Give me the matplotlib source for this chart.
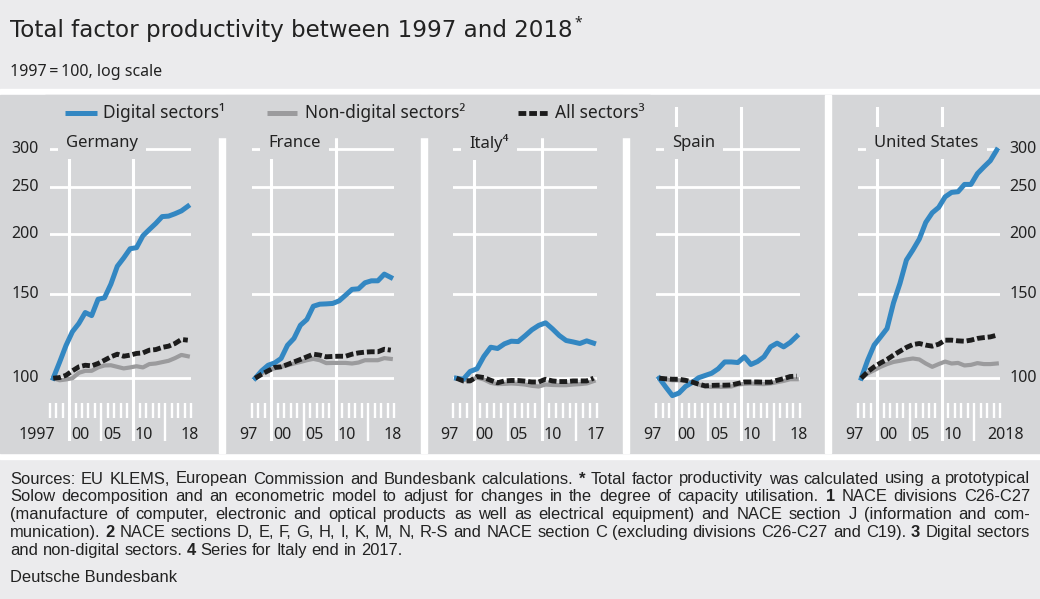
import numpy as np
import matplotlib
matplotlib.use("Agg")
import matplotlib.pyplot as plt
import matplotlib.transforms as mtransforms
from matplotlib.patches import Rectangle
from matplotlib import font_manager

plt.rcParams['font.family'] = ['Noto Sans', 'DejaVu Sans']

# ---- datos (1997 = 100) ----
years = list(range(1997, 2019))
years_italy = list(range(1997, 2018))

germany_digital = [100, 108, 117, 125, 130, 137, 135, 146, 147, 157, 171, 178, 186, 187, 198, 204, 210, 217, 217.5, 220, 223, 228]
germany_nondigital = [100, 99.0, 99.4, 100, 102.6, 103.6, 103.6, 105.3, 106.3, 106.4, 105.6, 104.8, 105.3, 105.9, 105.3, 107.0, 107.3, 108.0, 108.7, 110.1, 111.8, 111.1]
germany_all = [100, 100.3, 101.4, 103.6, 105.6, 106.4, 106.1, 107.3, 109.0, 110.8, 112.2, 111.1, 111.7, 112.6, 112.9, 114.4, 114.7, 115.9, 116.6, 118.1, 120.4, 120.0]

france_digital = [100, 103.6, 106.4, 107.6, 109.9, 117.1, 121.0, 128.9, 132.5, 141.2, 142.6, 142.8, 143.1, 144.9, 148.9, 153.1, 153.5, 158.0, 159.5, 159.5, 164.7, 162.1]
france_nondigital = [100, 102.3, 103.9, 104.8, 105.6, 106.4, 107.3, 108.1, 109.0, 109.7, 109.0, 107.5, 107.6, 107.6, 107.6, 107.3, 107.8, 109.0, 109.0, 109.0, 110.1, 109.7]
france_all = [100, 101.9, 103.6, 105.3, 105.6, 106.8, 108.1, 109.4, 110.8, 112.2, 111.7, 110.8, 111.0, 111.1, 111.1, 112.2, 112.9, 113.3, 113.5, 113.5, 114.9, 114.4]

italy_digital = [100, 99.5, 103.3, 104.6, 111.0, 116.0, 115.3, 117.9, 119.4, 119.2, 122.5, 126.1, 128.8, 130.4, 126.7, 122.7, 119.8, 119.0, 118.1, 119.6, 118.3]
italy_nondigital = [100, 99.2, 99.0, 100.3, 99.4, 97.8, 97.2, 97.3, 97.5, 97.3, 97.0, 96.4, 96.1, 97.0, 96.8, 96.7, 96.7, 97.0, 97.2, 97.5, 98.6]
italy_all = [100, 98.7, 98.7, 100.8, 100.3, 99.0, 97.8, 98.7, 98.9, 98.9, 98.6, 98.2, 98.2, 99.5, 98.7, 98.4, 98.4, 98.7, 98.7, 98.7, 100]

spain_digital = [100, 95.8, 92.0, 93.1, 96.1, 97.9, 100.2, 101.3, 102.4, 104.6, 108.1, 108.1, 107.8, 110.8, 106.8, 108.3, 110.8, 116.2, 118.3, 116.2, 118.7, 122.3]
spain_nondigital = [100, 99.5, 99.0, 99.0, 98.6, 98.1, 97.0, 96.1, 95.9, 95.9, 95.9, 96.1, 97.0, 97.3, 97.5, 97.3, 97.2, 97.5, 98.1, 98.7, 99.5, 99.5]
spain_all = [100, 99.7, 99.5, 99.5, 99.0, 98.2, 97.2, 96.4, 96.6, 96.7, 96.7, 96.8, 97.5, 98.2, 98.2, 98.2, 98.1, 98.1, 99.0, 99.8, 100.8, 101.0]

us_digital = [100, 109.0, 117.2, 121.9, 126.9, 143.5, 157.5, 176.2, 184.9, 194.9, 211.1, 221.0, 226.8, 238.6, 243.7, 244.5, 253.2, 253.2, 266.7, 275.3, 283.7, 298.6]
us_nondigital = [100, 102.3, 103.9, 105.6, 107.0, 108.1, 108.7, 109.4, 109.9, 109.4, 107.3, 105.6, 107.0, 108.3, 107.3, 107.6, 106.3, 106.6, 107.5, 107.0, 107.0, 107.3]
us_all = [100, 103.1, 105.6, 107.6, 109.4, 111.7, 113.8, 115.9, 117.5, 118.1, 117.2, 116.6, 117.7, 120.0, 120.0, 119.6, 119.4, 120.0, 121.0, 121.5, 121.9, 122.9]

y_ticks = [100, 150, 200, 250, 300]
legend_labels = ['Digital sectors¹', 'Non-digital sectors²', 'All sectors³']

# ---- estilo ----
W, H = 1040, 599
HEADER_BG = '#ebebed'
CHART_BG = '#d5d6d8'
TEXT = '#222222'
BLUE = '#3387c2'
GREY = '#9b9b9d'
BLACK = '#1c1c1c'
DASH = (1.6, 0.6)
FS = 11.5

fig = plt.figure(figsize=(W / 100, H / 100), dpi=100)
fig.patch.set_facecolor(HEADER_BG)

# fondo en coordenadas de pixel
bg = fig.add_axes([0, 0, 1, 1], zorder=-1)
bg.set_xlim(0, W)
bg.set_ylim(H, 0)
bg.axis('off')
bg.add_patch(Rectangle((0, 89), W, 370, color='white'))
bg.add_patch(Rectangle((0, 95), W, 358, color=CHART_BG))
for sx in [219, 421, 623, 825]:
    bg.add_patch(Rectangle((sx, 95), 6, 358, color='white'))

title = bg.text(10, 30, 'Total factor productivity between 1997 and 2018',
                fontsize=16.6, family=['DejaVu Sans'], color=TEXT, va='center', ha='left')
bg.annotate('*', xy=(1, 0.5), xycoords=title, xytext=(1, 5), textcoords='offset points',
            ha='left', va='center', fontsize=10, color=TEXT)
bg.text(10, 72, '1997\u2009=\u2009100, log scale', fontsize=11.5, color=TEXT, va='center', ha='left')

# capa superior (leyenda, titulos de paneles, notas)
ov = fig.add_axes([0, 0, 1, 1], zorder=5)
ov.set_xlim(0, W)
ov.set_ylim(H, 0)
ov.axis('off')
ov.patch.set_alpha(0)

# paneles: nombre, series, x izquierda px, ancho px, fin eje, etiquetas
panels = [
    ('Germany', years, germany_digital, germany_nondigital, germany_all, 50, 141, 2019,
     [('1997', 1997), ('00', 2000), ('05', 2005), ('10', 2010), ('18', 2018)], 'left'),
    ('France', years, france_digital, france_nondigital, france_all, 252, 142, 2019,
     [('97', 1997), ('00', 2000), ('05', 2005), ('10', 2010), ('18', 2018)], None),
    ('Italy⁴', years_italy, italy_digital, italy_nondigital, italy_all, 453, 144, 2018,
     [('97', 1997), ('00', 2000), ('05', 2005), ('10', 2010), ('17', 2017)], None),
    ('Spain', years, spain_digital, spain_nondigital, spain_all, 656, 144, 2019,
     [('97', 1997), ('00', 2000), ('05', 2005), ('10', 2010), ('18', 2018)], None),
    ('United States', years, us_digital, us_nondigital, us_all, 858, 142, 2019,
     [('97', 1997), ('00', 2000), ('05', 2005), ('10', 2010), ('2018', 2018)], 'right'),
]

AX_TOP, AX_BOT = 107, 441

for name, yrs, dig, nondig, allsec, left, width, xend, xlabels, yside in panels:
    ax = fig.add_axes([left / W, (H - AX_BOT) / H, width / W, (AX_BOT - AX_TOP) / H])
    ax.set_yscale('log')
    ax.set_ylim(74, 367)
    ax.set_xlim(1997, xend)
    ax.axis('off')

    for v in y_ticks:
        ax.axhline(v, color='white', lw=2, zorder=1)
    for v in [2000, 2010]:
        ax.axvline(v, color='white', lw=2.2, zorder=1)

    trans = mtransforms.blended_transform_factory(ax.transData, ax.transAxes)
    short = [y for y in range(1997, xend + 1) if y % 5 != 0]
    ax.vlines(short, 0.069, 0.114, transform=trans, color='white', lw=1.7, clip_on=False)
    ax.vlines([2005, 2015], 0, 0.114, transform=trans, color='white', lw=1.7, clip_on=False)

    x = np.array(yrs) + 0.5
    ax.plot(x, nondig, color=GREY, lw=3, zorder=2, clip_on=False)
    ax.plot(x, dig, color=BLUE, lw=3.6, zorder=3, clip_on=False)
    ax.plot(x, allsec, color=BLACK, lw=3.5, dashes=DASH, zorder=4, clip_on=False)

    for i, (lab, yr) in enumerate(xlabels):
        if i == 0:
            ax.text(yr + 0.8, 0.018, lab, transform=trans, ha='right', va='center', fontsize=FS, color=TEXT)
        elif i == len(xlabels) - 1:
            if len(lab) == 4:
                ax.text(yr - 0.9, 0.018, lab, transform=trans, ha='left', va='center', fontsize=FS, color=TEXT)
            else:
                ax.text(yr + 0.8, 0.018, lab, transform=trans, ha='center', va='center', fontsize=FS, color=TEXT)
        else:
            ax.text(yr + 0.25, 0.018, lab, transform=trans, ha='left', va='center', fontsize=FS, color=TEXT)

    if yside == 'left':
        for v in y_ticks:
            ax.annotate(str(v), xy=(0, v), xycoords=('axes fraction', 'data'), xytext=(-8, 0),
                        textcoords='offset points', ha='right', va='center', fontsize=FS, color=TEXT)
    elif yside == 'right':
        for v in y_ticks:
            ax.annotate(str(v), xy=(1, v), xycoords=('axes fraction', 'data'), xytext=(7, 0),
                        textcoords='offset points', ha='left', va='center', fontsize=FS, color=TEXT)

    ov.text(left + 16, 143, name, fontsize=12, color=TEXT, ha='left', va='center', zorder=3,
            bbox=dict(boxstyle='square,pad=0.5', facecolor=CHART_BG, edgecolor='none'))

# leyenda
ov.add_patch(Rectangle((45, 95), 605, 42, color=CHART_BG, zorder=1))
ov.plot([65, 97], [113, 113], color=BLUE, lw=3.6, solid_capstyle='butt', zorder=2)
ov.plot([267, 297], [113, 113], color=GREY, lw=3.6, solid_capstyle='butt', zorder=2)
ov.plot([518, 548], [113, 113], color=BLACK, lw=3.5, dashes=DASH, zorder=2)
for lx, lab in zip([103, 305, 555], legend_labels):
    ov.text(lx, 113, lab, fontsize=12.5, color=TEXT, ha='left', va='center', zorder=3)

# notas al pie (justificadas)
instaladas = {f.name for f in font_manager.fontManager.ttflist}
FOOT_FONT = 'Liberation Sans Narrow' if 'Liberation Sans Narrow' in instaladas else 'Liberation Sans'
renderer = fig.canvas.get_renderer()


def ancho(t):
    return t.get_window_extent(renderer).width


notas = [
    ([('Sources: EU KLEMS, European Commission and Bundesbank calculations.', False), ('*', True),
      ('Total factor productivity was calculated using a prototypical', False)], True),
    ([('Solow decomposition and an econometric model to adjust for changes in the degree of capacity utilisation.', False),
      ('1', True), ('NACE divisions C26-C27', False)], True),
    ([('(manufacture of computer, electronic and optical products as well as electrical equipment) and NACE section J (information and com-', False)], True),
    ([('munication).', False), ('2', True),
      ('NACE sections D, E, F, G, H, I, K, M, N, R-S and NACE section C (excluding divisions C26-C27 and C19).', False),
      ('3', True), ('Digital sectors', False)], True),
    ([('and non-digital sectors.', False), ('4', True), ('Series for Italy end in 2017.', False)], False),
]

# tamano de letra para que la linea mas larga quepa en el ancho
maximo = 0
for partes, just in notas:
    t = ov.text(0, 0, ' '.join(p[0] for p in partes), fontsize=10, family=FOOT_FONT)
    maximo = max(maximo, ancho(t))
    t.remove()
FOOT_FS = 10 * 1008 / maximo


def linea_nota(y, partes, justificar):
    arts = []
    for txt, negrita in partes:
        for w in txt.split():
            arts.append(ov.text(0, y, w, fontsize=FOOT_FS, family=FOOT_FONT, color=TEXT,
                                weight='bold' if negrita else 'normal', ha='left', va='center'))
    anchos = [ancho(t) for t in arts]
    sp = ov.text(0, y, 'a a', fontsize=FOOT_FS, family=FOOT_FONT)
    sp2 = ov.text(0, y, 'aa', fontsize=FOOT_FS, family=FOOT_FONT)
    espacio = ancho(sp) - ancho(sp2)
    sp.remove()
    sp2.remove()
    if justificar and len(arts) > 1:
        espacio = (1030 - 10 - sum(anchos)) / (len(arts) - 1)
    xpos = 10
    for t, w in zip(arts, anchos):
        t.set_x(xpos)
        xpos += w + espacio


for i, (partes, just) in enumerate(notas):
    linea_nota(479 + i * 17.8, partes, just)

ov.text(10, 577, 'Deutsche Bundesbank', fontsize=FOOT_FS, family=FOOT_FONT, color=TEXT, ha='left', va='center')

fig.savefig('out.png', dpi=100, facecolor=fig.get_facecolor())
